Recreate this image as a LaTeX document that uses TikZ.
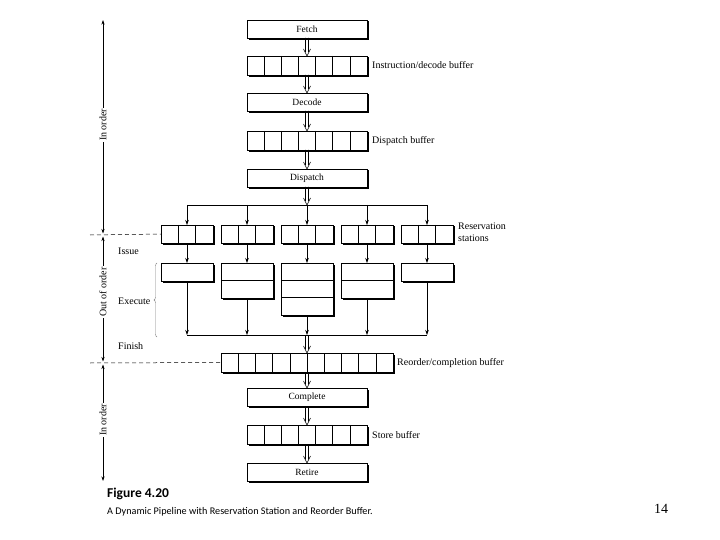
\documentclass[tikz,border=0pt]{standalone}
\usepackage{fontspec}
\setmainfont{Liberation Serif}
\newfontfamily\capfont{Carlito}
\usetikzlibrary{arrows.meta,calc,decorations.pathreplacing}
\tikzset{
  box/.style={draw, fill=white, line width=0.6pt, inner sep=0pt, outer sep=0pt,
    font=\fontsize{9.5}{10}\selectfont},
  stagebox/.style={box, minimum width=120pt, minimum height=18pt},
  lbl/.style={font=\fontsize{10}{11.5}\selectfont, inner sep=0pt, anchor=west},
  sarrow/.style={line width=0.6pt, -{Stealth[length=5pt,width=3.5pt]}},
  bus/.style={line width=0.6pt},
  shade/.style={line width=1.6pt},
  dbl/.style={line width=0.55pt, to path={
      ($(\tikztostart)+(-1.5,0)$) -- ($(\tikztotarget)+(-1.5,-4)$)
      ($(\tikztostart)+(1.5,0)$) -- ($(\tikztotarget)+(1.5,-4)$)
      ($(\tikztotarget)+(-3.5,-7)$) -- (\tikztotarget) -- ($(\tikztotarget)+(3.5,-7)$)}},
  axis/.style={line width=0.6pt, {Stealth[length=4.5pt,width=3pt]}-{Stealth[length=4.5pt,width=3pt]}},
  axlbl/.style={font=\fontsize{10}{11}\selectfont, fill=white, inner sep=1.5pt, rotate=90},
  sep/.style={line width=0.5pt, dash pattern=on 4pt off 3pt}
}
\newcommand{\cells}[2]{%
  \foreach \k in {1,...,\numexpr#2-1\relax}{
    \draw[line width=0.45pt] ($(#1.north west)!\k/#2!(#1.north east)$) -- ($(#1.south west)!\k/#2!(#1.south east)$);
  }}
\newcommand{\rows}[2]{%
  \foreach \k in {1,...,\numexpr#2-1\relax}{
    \draw[line width=0.45pt] ($(#1.north west)!\k/#2!(#1.south west)$) -- ($(#1.north east)!\k/#2!(#1.south east)$);
  }}
\newcommand{\boxshade}[1]{%
  \draw[shade] ($(#1.south west)+(1.5,0.8)$) -- ($(#1.south east)+(0.8,0.8)$) -- ($(#1.north east)+(0.8,1.5)$);}
\begin{document}
\begin{tikzpicture}[x=1pt,y=-1pt]
\useasboundingbox (0,0) rectangle (720,540);

% main column
\node[stagebox] (fetch) at (307,29) {Fetch};
\node[box, minimum width=120pt, minimum height=19pt] (ibuf) at (307,65.5) {};
\node[stagebox] (decode) at (307,102) {Decode};
\node[box, minimum width=120pt, minimum height=19pt] (dbuf) at (307,140.5) {};
\node[stagebox] (dispatch) at (307,178) {Dispatch};
\cells{ibuf}{7}
\cells{dbuf}{7}
\foreach \n in {fetch,ibuf,decode,dbuf,dispatch}{ \boxshade{\n} }

\node[lbl] at (372,65.5) {Instruction/decode buffer};
\node[lbl] at (372,141) {Dispatch buffer};

\draw[dbl] (fetch.south) to (ibuf.north);
\draw[dbl] (ibuf.south) to (decode.north);
\draw[dbl] (decode.south) to (dbuf.north);
\draw[dbl] (dbuf.south) to (dispatch.north);

% distribution bus
\coordinate (dist) at (307,205);
\coordinate (distL) at (187,205);
\coordinate (distR) at (427,205);
\draw[dbl] (dispatch.south) to (dist);
\draw[bus] (distL) -- (distR);

% reservation stations and execution units
\foreach \i/\x/\h in {1/187/18, 2/247/35, 3/307/52, 4/367/35, 5/427/18}{
  \node[box, minimum width=52pt, minimum height=18pt] (rs\i) at (\x,234) {};
  \node[box, minimum width=52pt, minimum height=\h pt, anchor=north] (ex\i) at (\x,263) {};
}
\foreach \i in {1,...,5}{ \cells{rs\i}{3} \boxshade{rs\i} \boxshade{ex\i} }
\rows{ex2}{2}
\rows{ex3}{3}
\rows{ex4}{2}

\node[lbl, align=left, anchor=north west] at (458,223) {Reservation\\stations};

\coordinate (coll) at (307,335);
\coordinate (collL) at (187,335);
\coordinate (collR) at (427,335);
\foreach \i in {1,...,5}{
  \draw[sarrow] (rs\i.north |- dist) -- (rs\i.north);
  \draw[sarrow] (rs\i.south) -- (ex\i.north);
  \draw[sarrow] (ex\i.south) -- (ex\i.south |- coll);
}
\draw[bus] (collL) -- (collR);

% reorder buffer and the rest
\node[box, minimum width=172pt, minimum height=19pt] (rob) at (307,362.5) {};
\cells{rob}{10}
\node[lbl] at (397,363) {Reorder/completion buffer};
\node[stagebox] (complete) at (307,397) {Complete};
\node[box, minimum width=120pt, minimum height=19pt] (sbuf) at (307,434.5) {};
\cells{sbuf}{7}
\node[lbl] at (372,435) {Store buffer};
\node[stagebox] (retire) at (307,472) {Retire};
\foreach \n in {rob,complete,sbuf,retire}{ \boxshade{\n} }

\draw[dbl] (coll) to (rob.north);
\draw[dbl] (rob.south) to (complete.north);
\draw[dbl] (complete.south) to (sbuf.north);
\draw[dbl] (sbuf.south) to (retire.north);

% left axis
\coordinate (a0) at (103,20);
\coordinate (a1) at (103,233.5);
\coordinate (a2) at (103,236.5);
\coordinate (a3) at (103,361.5);
\coordinate (a4) at (103,364.5);
\coordinate (a5) at (103,481);
\draw[axis] (a1) -- (a0);
\draw[axis] (a3) -- (a2);
\draw[axis] (a5) -- (a4);
\node[axlbl] at (103,125) {In order};
\node[axlbl] at (103,292) {Out of order};
\node[axlbl] at (103,420) {In order};

\coordinate (d1) at (90,235);
\coordinate (d2) at (90,363);
\draw[sep] (d1) -- (rs1.west);
\draw[sep] (d2) -- (rob.west);

\node[lbl] at (118,251) {Issue};
\node[lbl] at (118,301) {Execute};
\node[lbl] at (118,346) {Finish};
\coordinate (br1) at (157,337);
\coordinate (br2) at (157,263);
\draw[gray, line width=0.4pt, decorate, decoration={brace, amplitude=3pt}] (br1) -- (br2);

% caption
\node[anchor=west, inner sep=0pt, font=\capfont\bfseries\fontsize{13.5}{15}\selectfont] at (107,494) {Figure 4.20};
\node[anchor=west, inner sep=0pt, font=\capfont\fontsize{10.2}{12}\selectfont] at (107,512) {A Dynamic Pipeline with Reservation Station and Reorder Buffer.};
\node[anchor=west, inner sep=0pt, font=\fontsize{14}{16}\selectfont] at (654,509) {14};
\end{tikzpicture}
\end{document}
